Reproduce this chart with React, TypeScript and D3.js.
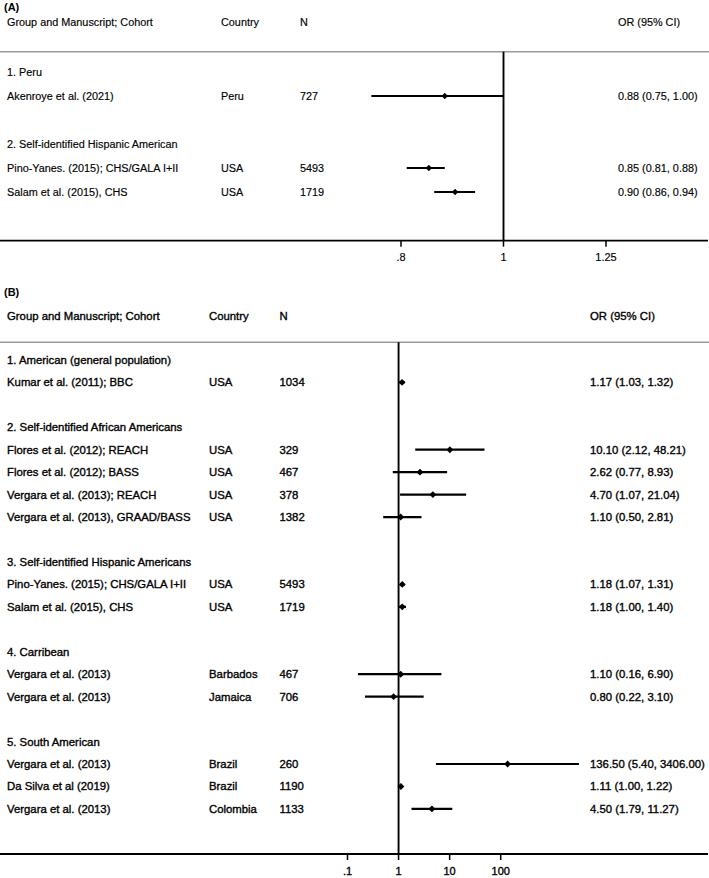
import React from "react";
import * as d3 from "d3";

// ---------- Panel A data ----------
const groupsA = ["1. Peru", "2. Self-identified Hispanic American"];
const studiesA = [
  "Akenroye et al. (2021)",
  "Pino-Yanes. (2015); CHS/GALA I+II",
  "Salam et al. (2015), CHS",
];
const groupOfA = [0, 1, 1];
const countriesA = ["Peru", "USA", "USA"];
const nA = [727, 5493, 1719];
const orA = [0.88, 0.85, 0.9];
const lowA = [0.75, 0.81, 0.86];
const highA = [1.0, 0.88, 0.94];
const ticksA = [0.8, 1, 1.25];
const tickLabelsA = [".8", "1", "1.25"];

// ---------- Panel B data ----------
const groupsB = [
  "1. American (general population)",
  "2. Self-identified African Americans",
  "3. Self-identified Hispanic Americans",
  "4. Carribean",
  "5. South American",
];
const studiesB = [
  "Kumar et al. (2011); BBC",
  "Flores et al. (2012); REACH",
  "Flores et al. (2012); BASS",
  "Vergara et al. (2013); REACH",
  "Vergara et al. (2013), GRAAD/BASS",
  "Pino-Yanes. (2015); CHS/GALA I+II",
  "Salam et al. (2015), CHS",
  "Vergara et al. (2013)",
  "Vergara et al. (2013)",
  "Vergara et al. (2013)",
  "Da Silva et al (2019)",
  "Vergara et al. (2013)",
];
const groupOfB = [0, 1, 1, 1, 1, 2, 2, 3, 3, 4, 4, 4];
const countriesB = ["USA", "USA", "USA", "USA", "USA", "USA", "USA", "Barbados", "Jamaica", "Brazil", "Brazil", "Colombia"];
const nB = [1034, 329, 467, 378, 1382, 5493, 1719, 467, 706, 260, 1190, 1133];
const orB = [1.17, 10.1, 2.62, 4.7, 1.1, 1.18, 1.18, 1.1, 0.8, 136.5, 1.11, 4.5];
const lowB = [1.03, 2.12, 0.77, 1.07, 0.5, 1.07, 1.0, 0.16, 0.22, 5.4, 1.0, 1.79];
const highB = [1.32, 48.21, 8.93, 21.04, 2.81, 1.31, 1.4, 6.9, 3.1, 3406.0, 1.22, 11.27];
const ticksB = [0.1, 1, 10, 100];
const tickLabelsB = [".1", "1", "10", "100"];

const headerLabels = ["Group and Manuscript; Cohort", "Country", "N", "OR (95% CI)"];

const FONT = "'Liberation Sans', Arial, Helvetica, sans-serif";
const fmt = d3.format(".2f");

type Row =
  | { kind: "group"; idx: number; text: string }
  | { kind: "study"; idx: number; i: number };

function buildRows(groups: string[], groupOf: number[]): Row[] {
  const rows: Row[] = [];
  let idx = 0;
  groups.forEach((g, gi) => {
    rows.push({ kind: "group", idx: idx++, text: g });
    groupOf.forEach((go, i) => {
      if (go === gi) rows.push({ kind: "study", idx: idx++, i });
    });
    idx++; // blank row
  });
  return rows;
}

interface PanelProps {
  label: string;
  labelY: number;
  headerY: number;
  greyY: number;
  rowY0: number;
  step: number;
  axisY: number;
  tickLabelY: number;
  fs: number;
  cols: number[];
  domain: [number, number];
  range: [number, number];
  ticks: number[];
  tickLabels: string[];
  groups: string[];
  groupOf: number[];
  studies: string[];
  countries: string[];
  ns: number[];
  ors: number[];
  lows: number[];
  highs: number[];
  heavy: number;
  markerSize: number;
}

function Panel(p: PanelProps) {
  const x = d3.scaleLog().domain(p.domain).range(p.range);
  const rows = buildRows(p.groups, p.groupOf);
  const y = (k: number) => p.rowY0 + p.step * k;
  const sym = d3.symbol().type(d3.symbolSquare).size(p.markerSize)() as string;
  const textStyle = {
    fontFamily: FONT,
    fontSize: p.fs,
    fill: "#000",
    stroke: "#000",
    strokeWidth: p.heavy,
  } as const;
  const x1 = x(1);
  return (
    <g>
      <text x={4} y={p.labelY} style={{ ...textStyle, fontWeight: 700, fontSize: 11, strokeWidth: 0 }}>
        {p.label}
      </text>
      {headerLabels.map((h, i) => (
        <text key={h} x={p.cols[i]} y={p.headerY} style={textStyle}>
          {h}
        </text>
      ))}
      <line x1={0} x2={709} y1={p.greyY} y2={p.greyY} stroke="#9a9a9a" strokeWidth={1.5} />
      {/* reference line at 1 */}
      <line x1={x1} x2={x1} y1={p.greyY} y2={p.axisY} stroke="#000" strokeWidth={1.9} />
      {rows.map((r) => {
        const yy = y(r.idx);
        if (r.kind === "group") {
          return (
            <text key={"g" + r.idx} x={p.cols[0]} y={yy + 4} style={textStyle}>
              {r.text}
            </text>
          );
        }
        const i = r.i;
        return (
          <g key={"s" + r.idx}>
            <text x={p.cols[0]} y={yy + 4} style={textStyle}>{p.studies[i]}</text>
            <text x={p.cols[1]} y={yy + 4} style={textStyle}>{p.countries[i]}</text>
            <text x={p.cols[2]} y={yy + 4} style={textStyle}>{String(p.ns[i])}</text>
            <text x={p.cols[3]} y={yy + 4} style={textStyle}>
              {`${fmt(p.ors[i])} (${fmt(p.lows[i])}, ${fmt(p.highs[i])})`}
            </text>
            <line
              x1={x(p.lows[i])}
              x2={x(p.highs[i])}
              y1={yy}
              y2={yy}
              stroke="#000"
              strokeWidth={2.2}
            />
            <path d={sym} transform={`translate(${x(p.ors[i])},${yy}) rotate(45)`} fill="#000" />
          </g>
        );
      })}
      {/* axis */}
      <line x1={0} x2={708} y1={p.axisY} y2={p.axisY} stroke="#000" strokeWidth={1.8} />
      {p.ticks.map((t, i) => (
        <g key={"t" + i}>
          <line x1={x(t)} x2={x(t)} y1={p.axisY} y2={p.axisY + 6} stroke="#000" strokeWidth={1.5} />
          <text x={x(t)} y={p.tickLabelY} textAnchor="middle" style={{ ...textStyle, fontSize: 11 }}>
            {p.tickLabels[i]}
          </text>
        </g>
      ))}
    </g>
  );
}

export default function App() {
  return (
    <svg
      width={709}
      height={878}
      viewBox="0 0 709 878"
      style={{ position: "absolute", left: 0, top: 0, background: "#fff" }}
    >
      <rect x={0} y={0} width={709} height={878} fill="#fff" />
      <Panel
        label="(A)"
        labelY={11}
        headerY={26}
        greyY={51.7}
        rowY0={72}
        step={24}
        axisY={240.7}
        tickLabelY={261}
        fs={10.85}
        cols={[7, 221, 300, 618]}
        domain={[0.8, 1.25]}
        range={[401, 606]}
        ticks={ticksA}
        tickLabels={tickLabelsA}
        groups={groupsA}
        groupOf={groupOfA}
        studies={studiesA}
        countries={countriesA}
        ns={nA}
        ors={orA}
        lows={lowA}
        highs={highA}
        heavy={0.15}
        markerSize={20}
      />
      <Panel
        label="(B)"
        labelY={296}
        headerY={320}
        greyY={342.3}
        rowY0={359.9}
        step={22.45}
        axisY={854}
        tickLabelY={875}
        fs={11.35}
        cols={[7, 209, 279.5, 590]}
        domain={[0.1, 100]}
        range={[347.5, 500.7]}
        ticks={ticksB}
        tickLabels={tickLabelsB}
        groups={groupsB}
        groupOf={groupOfB}
        studies={studiesB}
        countries={countriesB}
        ns={nB}
        ors={orB}
        lows={lowB}
        highs={highB}
        heavy={0.35}
        markerSize={24}
      />
    </svg>
  );
}
